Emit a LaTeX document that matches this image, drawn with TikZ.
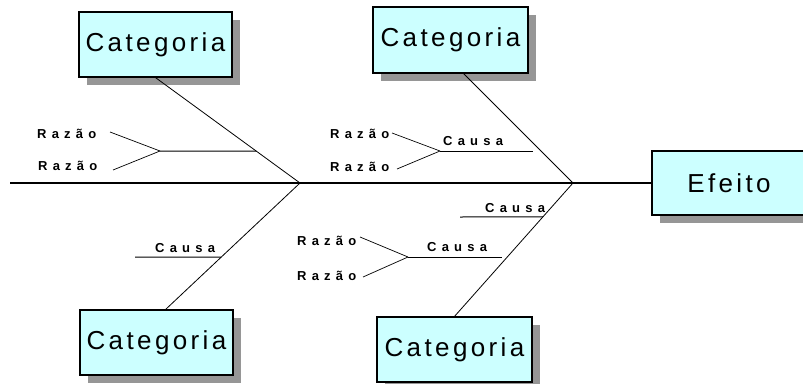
\documentclass[tikz,border=0pt]{standalone}
\usepackage{fontspec}
\setmainfont{Liberation Sans}
\newfontfamily\bigfont[LetterSpace=13]{Liberation Sans}
\newfontfamily\smallfont[LetterSpace=40]{Liberation Sans}
\usetikzlibrary{shadows,calc}
\definecolor{boxfill}{RGB}{204,255,255}
\definecolor{shadowgray}{RGB}{150,150,150}
\begin{document}
\begin{tikzpicture}[x=1pt,y=-1pt,
  catbox/.style={draw=black, line width=1.2pt, fill=boxfill, minimum width=153pt,
    minimum height=65pt, inner sep=0pt, font=\bigfont\fontsize{26}{30}\selectfont,
    drop shadow={shadow xshift=8pt, shadow yshift=-8pt, fill=shadowgray, opacity=1}},
  spine/.style={line width=1.3pt},
  bone/.style={line width=0.8pt},
  causeline/.style={line width=1pt},
  reason/.style={line width=0.7pt},
  small/.style={font=\smallfont\bfseries\fontsize{13}{15}\selectfont, inner sep=0pt, anchor=base west},
]
\useasboundingbox (0,0) rectangle (803,383);

% boxes
\node[catbox] (c1) at (155.5,44.5) {Categoria};
\node[catbox, minimum width=155pt, minimum height=66pt] (c2) at (450.5,40) {Categoria};
\node[catbox] (c3) at (156.5,342.5) {Categoria};
\node[catbox, minimum width=155pt] (c4) at (454.5,349.5) {Categoria};
\node[catbox, minimum width=164pt, minimum height=64pt] (ef) at (734,183) {\hspace*{-10pt}Efeito};

% spine
\coordinate (tail) at (10,183);
\coordinate (j1) at (300,183);
\coordinate (j2) at (573,183);
\draw[spine] (tail) -- (tail -| ef.west);

% bones
\coordinate (c2b) at (463,73);
\coordinate (c3t) at (165,310);
\draw[bone] (c1.south) -- (j1);
\draw[bone] (c2b) -- (j2);
\draw[bone] (j1) -- (c3t);
\draw[bone] (j2) -- (c4.north);

% top-left cause
\coordinate (f1) at (160,151);
\coordinate (b1) at ($(c1.south)!0.698!(j1)$);
\draw[causeline] (f1) -- (b1);
\node[small] (r1a) at (37,138) {Razão};
\node[small] (r1b) at (38,170) {Razão};
\coordinate (s1a) at (110,132);
\coordinate (s1b) at (113,170);
\draw[reason] (s1a) -- (f1);
\draw[reason] (s1b) -- (f1);

% top-middle cause
\coordinate (f2) at (440,151);
\coordinate (e2) at (533,151);
\draw[causeline] (f2) -- (e2);
\node[small] (k2) at (443,145) {Causa};
\node[small] (r2a) at (330,138) {Razão};
\node[small] (r2b) at (330,171) {Razão};
\coordinate (s2a) at (392,133);
\coordinate (s2b) at (397,169);
\draw[reason] (s2a) -- (f2);
\draw[reason] (s2b) -- (f2);

% bottom-left cause
\coordinate (f3) at (135,257);
\coordinate (b3) at ($(j1)!0.583!(c3t)$);
\draw[causeline] (f3) -- (b3);
\node[small] (k3) at (155,252) {Causa};

% bottom-middle causes
\coordinate (f4) at (460,217);
\coordinate (b4) at ($(j2)!0.254!(c4.north)$);
\draw[causeline] (f4) -- (b4);
\node[small] (k4) at (485,212) {Causa};

\coordinate (f5) at (408,257);
\coordinate (e5) at (502,257);
\draw[causeline] (f5) -- (e5);
\node[small] (k5) at (427,251) {Causa};
\node[small] (r5a) at (297,245) {Razão};
\node[small] (r5b) at (297,280) {Razão};
\coordinate (s5a) at (360,237);
\coordinate (s5b) at (363,277);
\draw[reason] (s5a) -- (f5);
\draw[reason] (s5b) -- (f5);
\end{tikzpicture}
\end{document}
